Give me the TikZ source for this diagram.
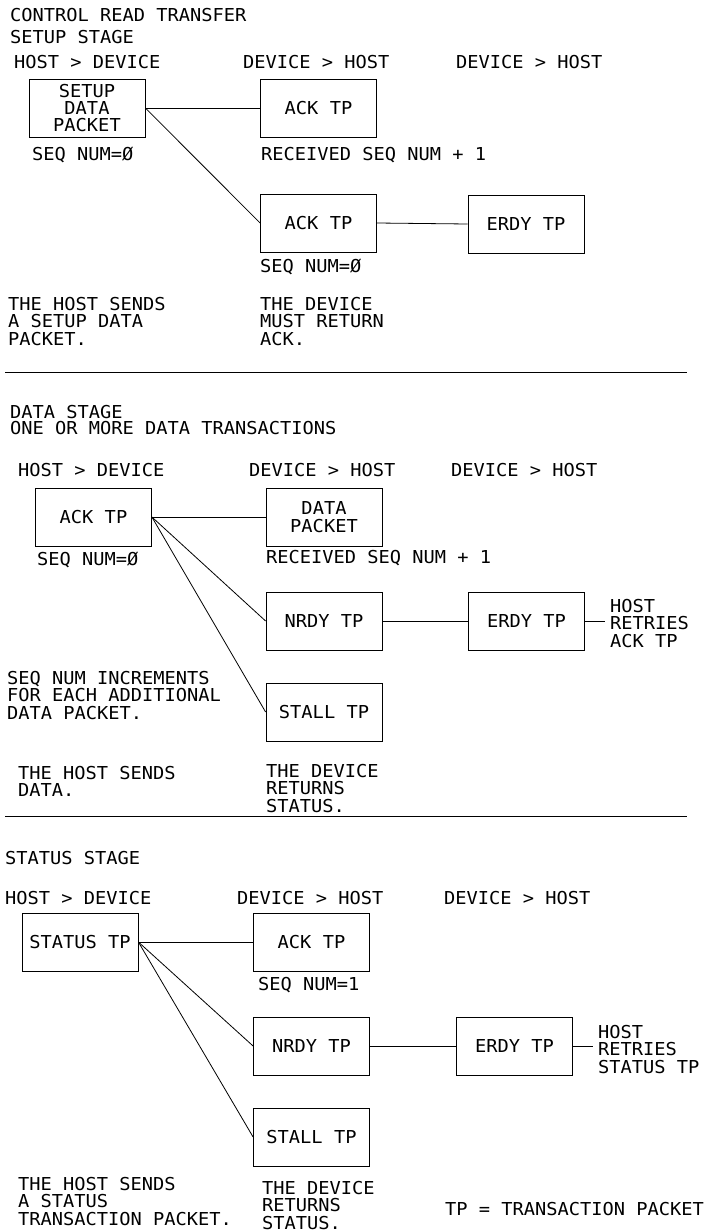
\documentclass[tikz,border=0pt]{standalone}
\usepackage{fontspec}
\setmainfont{DejaVu Sans Mono}[FakeStretch=1.05]
\begin{document}
\begin{tikzpicture}[x=1pt,y=-1pt,
  every node/.style={font=\fontsize{17.8}{17.3}\selectfont},
  pbox/.style={draw,line width=0.8pt,minimum width=116pt,minimum height=58pt,inner sep=0pt,align=center},
  txt/.style={inner sep=0pt,anchor=west},
  note/.style={inner sep=0pt,anchor=north west,align=left},
  conn/.style={line width=0.8pt},
  rule/.style={line width=1pt}]
\useasboundingbox (0,0) rectangle (709,1231);
% ---------- setup stage
\node[txt] (t1) at (10,15) {CONTROL READ TRANSFER};
\node[txt] (t2) at (10,37) {SETUP STAGE};
\node[txt] (h11) at (14,62) {HOST > DEVICE};
\node[txt] (h12) at (243,62) {DEVICE > HOST};
\node[txt] (h13) at (456,62) {DEVICE > HOST};
\node[pbox] (a1) at (87,108) {SETUP\\DATA\\PACKET};
\node[pbox] (b1) at (318.5,108) {ACK TP};
\node[pbox] (c1) at (318.5,223) {ACK TP};
\node[pbox] (d1) at (526,224) {ERDY TP};
\node[txt] (s11) at (32,155) {SEQ NUM=Ø};
\node[txt] (s12) at (261,155) {RECEIVED SEQ NUM + 1};
\node[txt] (s13) at (260,267) {SEQ NUM=Ø};
\node[note] (n11) at (8,297) {THE HOST SENDS\\A SETUP DATA\\PACKET.};
\node[note] (n12) at (260,297) {THE DEVICE\\MUST RETURN\\ACK.};
\draw[conn] (a1.east) -- (b1.west);
\draw[conn] (a1.east) -- (c1.west);
\draw[conn] (c1.east) -- (d1.west);
\coordinate (r1a) at (5,372);
\coordinate (r1b) at (687,372);
\draw[rule] (r1a) -- (r1b);
% ---------- data stage
\node[txt] (t3) at (10,412) {DATA STAGE};
\node[txt] (t4) at (10,428) {ONE OR MORE DATA TRANSACTIONS};
\node[txt] (h21) at (18,470) {HOST > DEVICE};
\node[txt] (h22) at (249,470) {DEVICE > HOST};
\node[txt] (h23) at (451,470) {DEVICE > HOST};
\node[pbox] (a2) at (93.5,517) {ACK TP};
\node[pbox] (b2) at (324,517) {DATA\\PACKET};
\node[pbox] (c2) at (324,621) {NRDY TP};
\node[pbox] (d2) at (526.5,621) {ERDY TP};
\node[pbox] (e2) at (324,712) {STALL TP};
\node[txt] (s21) at (37,560) {SEQ NUM=Ø};
\node[txt] (s22) at (266,558) {RECEIVED SEQ NUM + 1};
\node[note] (n21) at (610,599) {HOST\\RETRIES\\ACK TP};
\node[note] (n22) at (7,671) {SEQ NUM INCREMENTS\\FOR EACH ADDITIONAL\\DATA PACKET.};
\node[note] (n23) at (18,766) {THE HOST SENDS\\DATA.};
\node[note] (n24) at (266,764) {THE DEVICE\\RETURNS\\STATUS.};
\coordinate (p2) at (605,621);
\draw[conn] (a2.east) -- (b2.west);
\draw[conn] (a2.east) -- (c2.west);
\draw[conn] (a2.east) -- (e2.west);
\draw[conn] (c2.east) -- (d2.west);
\draw[conn] (d2.east) -- (p2);
\coordinate (r2a) at (5,816);
\coordinate (r2b) at (687,816);
\draw[rule] (r2a) -- (r2b);
% ---------- status stage
\node[txt] (t5) at (5,858) {STATUS STAGE};
\node[txt] (h31) at (5,898) {HOST > DEVICE};
\node[txt] (h32) at (237,898) {DEVICE > HOST};
\node[txt] (h33) at (444,898) {DEVICE > HOST};
\node[pbox] (a3) at (80,942) {STATUS TP};
\node[pbox] (b3) at (311.5,942) {ACK TP};
\node[pbox] (c3) at (311.5,1046) {NRDY TP};
\node[pbox] (d3) at (514.5,1046) {ERDY TP};
\node[pbox] (e3) at (311.5,1137) {STALL TP};
\node[txt] (s31) at (258,985) {SEQ NUM=1};
\node[note] (n31) at (598,1025) {HOST\\RETRIES\\STATUS TP};
\node[note] (n32) at (18,1177) {THE HOST SENDS\\A STATUS\\TRANSACTION PACKET.};
\node[note] (n33) at (262,1181) {THE DEVICE\\RETURNS\\STATUS.};
\node[txt] (tp) at (445,1209) {TP = TRANSACTION PACKET};
\coordinate (p3) at (593,1046);
\draw[conn] (a3.east) -- (b3.west);
\draw[conn] (a3.east) -- (c3.west);
\draw[conn] (a3.east) -- (e3.west);
\draw[conn] (c3.east) -- (d3.west);
\draw[conn] (d3.east) -- (p3);
\end{tikzpicture}
\end{document}
